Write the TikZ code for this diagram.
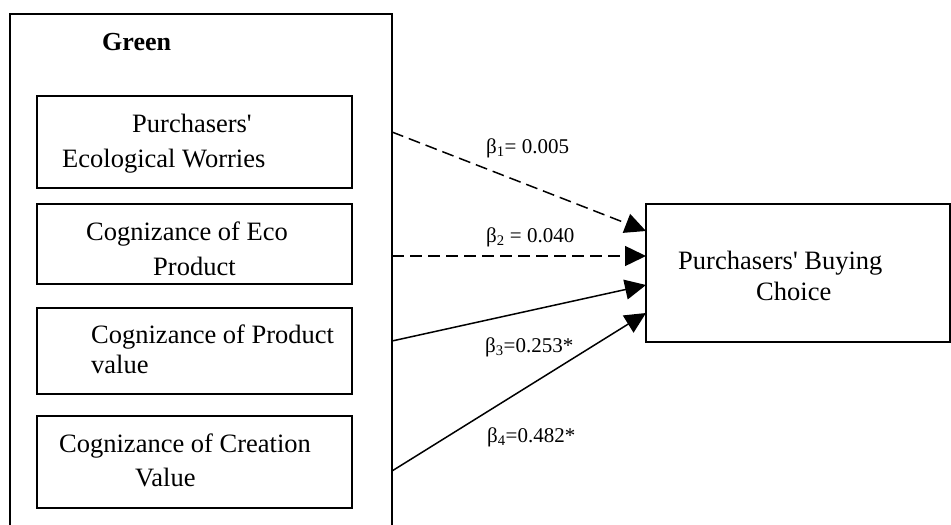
\documentclass[tikz,border=0pt]{standalone}
\usepackage{fontspec}
\setmainfont{Liberation Serif}[Ligatures=TeXOff]
\usetikzlibrary{arrows.meta}
\begin{document}
\begin{tikzpicture}[x=1pt,y=-1pt,
  box/.style={draw, line width=1.8pt, minimum width=315pt, inner sep=0pt, outer sep=0pt},
  txt/.style={anchor=base west, inner sep=0pt, font=\fontsize{26.5}{30}\selectfont},
  lbl/.style={anchor=base west, inner sep=0pt, font=\fontsize{21}{24}\selectfont},
  conn/.style={line width=1.5pt, -{Triangle[length=21pt,width=20pt]}},
  dashconn/.style={conn, dash pattern=on 12pt off 6pt}]
\clip (0,0) rectangle (951,525);
% outer group box (open at the bottom of the picture)
\node[draw, line width=1.8pt, minimum width=382pt, minimum height=540pt, inner sep=0pt, outer sep=0pt] (outer) at (201,284) {};
\node[anchor=base west, inner sep=0pt, font=\fontsize{26}{30}\selectfont\bfseries] (green) at (102,50) {Green};
% inner boxes
\node[box, minimum height=92pt] (b1) at (194.5,142) {};
\node[box, minimum height=80pt] (b2) at (194.5,244) {};
\node[box, minimum height=86pt] (b3) at (194.5,351) {};
\node[box, minimum height=92pt] (b4) at (194.5,462) {};
% texts
\node[txt] (t1a) at (132,132) {Purchasers'};
\node[txt] (t1b) at (62,167) {Ecological Worries};
\node[txt] (t2a) at (86,240) {Cognizance of Eco};
\node[txt] (t2b) at (153,275) {Product};
\node[txt] (t3a) at (91,343) {Cognizance of Product};
\node[txt] (t3b) at (91,373) {value};
\node[txt] (t4a) at (59,452) {Cognizance of Creation};
\node[txt] (t4b) at (135,486) {Value};
% target box
\node[draw, line width=1.8pt, minimum width=304pt, minimum height=138pt, inner sep=0pt, outer sep=0pt] (res) at (798,273) {};
\node[txt] (r1) at (678,269) {Purchasers' Buying};
\node[txt] (r2) at (756,300) {Choice};
% connector end points
\coordinate (s1) at (392,132);
\coordinate (s2) at (392,256);
\coordinate (s3) at (392,341);
\coordinate (s4) at (392,471);
\coordinate (e1) at (646,231);
\coordinate (e2) at (646,256);
\coordinate (e3) at (646,285);
\coordinate (e4) at (646,313);
\draw[dashconn] (s1) -- (e1);
\draw[dashconn] (s2) -- (e2);
\draw[conn] (s3) -- (e3);
\draw[conn] (s4) -- (e4);
% labels
\node[lbl] (l1) at (486,153) {β\textsubscript{1}= 0.005};
\node[lbl] (l2) at (486,242) {β\textsubscript{2} = 0.040};
\node[lbl] (l3) at (485,352) {β\textsubscript{3}=0.253*};
\node[lbl] (l4) at (487,442) {β\textsubscript{4}=0.482*};
\end{tikzpicture}
\end{document}
